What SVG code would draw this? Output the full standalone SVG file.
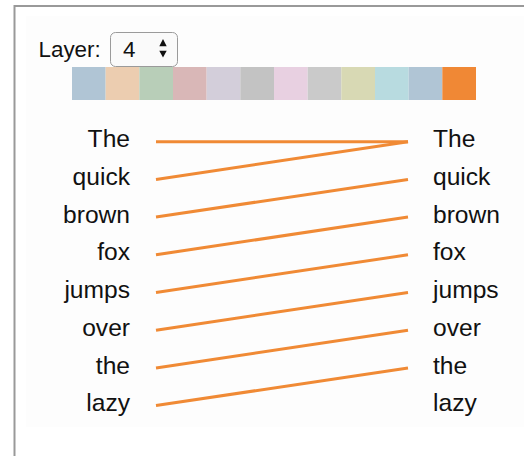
<svg xmlns="http://www.w3.org/2000/svg" width="524" height="456" viewBox="0 0 524 456">
<style>
.w{font-family:"Liberation Sans",Arial,sans-serif;font-size:24.6px;fill:#111}
.l{text-anchor:end}
.c{stroke:#f08a35;stroke-width:3;fill:none;stroke-linecap:butt}
</style>
<rect x="0" y="0" width="524" height="456" fill="#fff"/>
<rect x="26" y="16" width="498" height="411" fill="#fdfdfd"/>
<path d="M14.5 456V6H524" fill="none" stroke="#999" stroke-width="2"/>
<g id="layer-control">
<text x="38.5" y="57.3" style="font-family:'Liberation Sans',Arial,sans-serif;font-size:22.4px;fill:#111">Layer:</text>
<rect x="110.5" y="32.5" width="67" height="34" rx="5" fill="#fafafa" stroke="#9a9a9a" stroke-width="1"/>
<text x="123" y="56.5" style="font-family:'Liberation Sans',Arial,sans-serif;font-size:22.4px;fill:#111">4</text>
<path d="M159.3 46.3L163 39L166.7 46.3Z M159.3 50.7L166.7 50.7L163 57.6Z" fill="#111"/>
</g>
<g id="layer-bar">
<rect x="72" y="67" width="33.67" height="33" fill="#b0c5d5"/>
<rect x="105.67" y="67" width="33.67" height="33" fill="#eccdb0"/>
<rect x="139.33" y="67" width="33.67" height="33" fill="#b8ceb8"/>
<rect x="173" y="67" width="33.67" height="33" fill="#d9b7b7"/>
<rect x="206.67" y="67" width="33.67" height="33" fill="#d3ceda"/>
<rect x="240.33" y="67" width="33.67" height="33" fill="#c3c3c3"/>
<rect x="274" y="67" width="33.67" height="33" fill="#e8d0e1"/>
<rect x="307.67" y="67" width="33.67" height="33" fill="#cacaca"/>
<rect x="341.33" y="67" width="33.67" height="33" fill="#d8d9b4"/>
<rect x="375" y="67" width="33.67" height="33" fill="#b8dbe0"/>
<rect x="408.67" y="67" width="33.67" height="33" fill="#b0c5d5"/>
<rect x="442.33" y="67" width="33.67" height="33" fill="#f08835"/>
</g>
<g id="connectors">
<line class="c" x1="156" y1="141.7" x2="408" y2="141.7"/>
<line class="c" x1="156" y1="179.4" x2="408" y2="141.7"/>
<line class="c" x1="156" y1="217.1" x2="408" y2="179.4"/>
<line class="c" x1="156" y1="254.8" x2="408" y2="217.1"/>
<line class="c" x1="156" y1="292.5" x2="408" y2="254.8"/>
<line class="c" x1="156" y1="330.2" x2="408" y2="292.5"/>
<line class="c" x1="156" y1="367.9" x2="408" y2="330.2"/>
<line class="c" x1="156" y1="405.6" x2="408" y2="367.9"/>
</g>
<g id="src-0"><text class="w l" x="130" y="147.3">The</text></g>
<g id="src-1"><text class="w l" x="130" y="185">quick</text></g>
<g id="src-2"><text class="w l" x="130" y="222.7">brown</text></g>
<g id="src-3"><text class="w l" x="130" y="260.4">fox</text></g>
<g id="src-4"><text class="w l" x="130" y="298.1">jumps</text></g>
<g id="src-5"><text class="w l" x="130" y="335.8">over</text></g>
<g id="src-6"><text class="w l" x="130" y="373.5">the</text></g>
<g id="src-7"><text class="w l" x="130" y="411.2">lazy</text></g>
<g id="tgt-0"><text class="w" x="433" y="147.3">The</text></g>
<g id="tgt-1"><text class="w" x="433" y="185">quick</text></g>
<g id="tgt-2"><text class="w" x="433" y="222.7">brown</text></g>
<g id="tgt-3"><text class="w" x="433" y="260.4">fox</text></g>
<g id="tgt-4"><text class="w" x="433" y="298.1">jumps</text></g>
<g id="tgt-5"><text class="w" x="433" y="335.8">over</text></g>
<g id="tgt-6"><text class="w" x="433" y="373.5">the</text></g>
<g id="tgt-7"><text class="w" x="433" y="411.2">lazy</text></g>
</svg>
